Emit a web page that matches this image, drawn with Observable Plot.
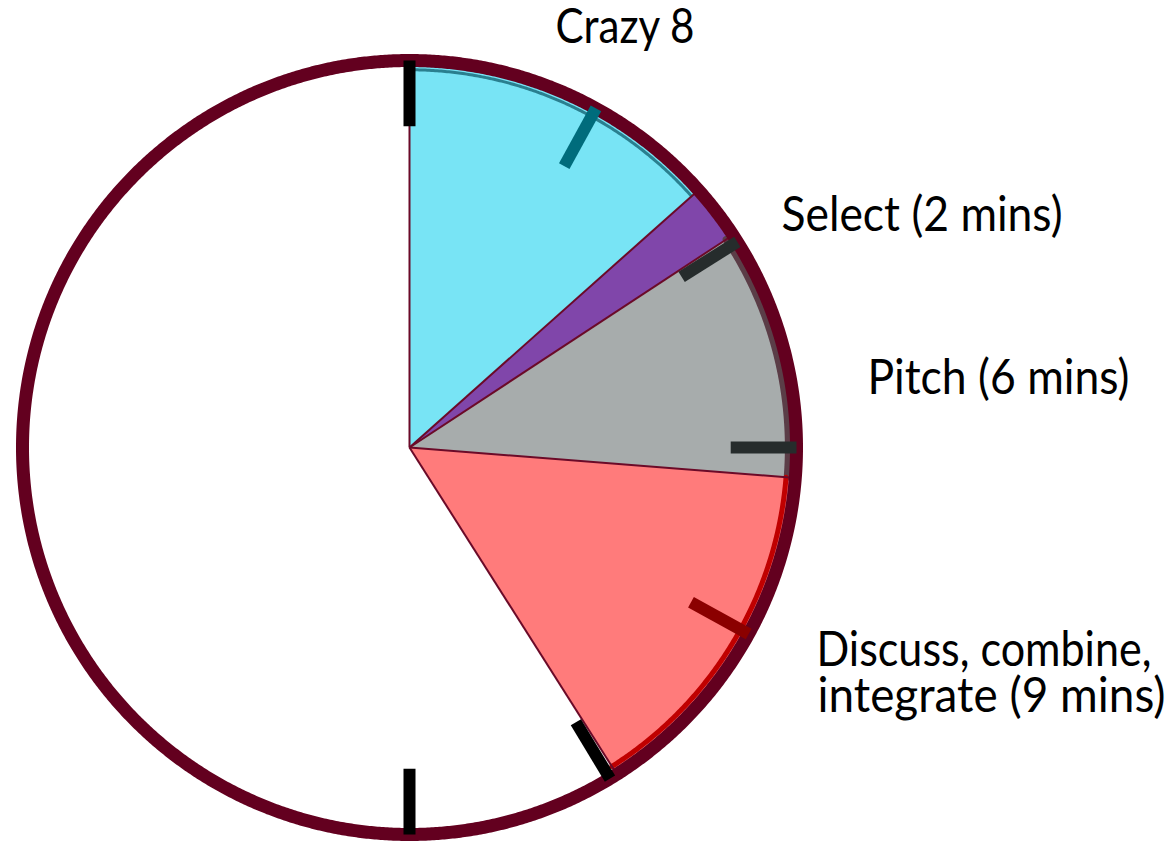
<!DOCTYPE html>
<html>
<head>
<meta charset="utf-8">
<script src="https://cdn.jsdelivr.net/npm/d3@7"></script>
<script src="https://cdn.jsdelivr.net/npm/@observablehq/plot@0.6"></script>
<style>
  html, body { margin: 0; padding: 0; background: #ffffff; }
  svg { display: block; }
</style>
</head>
<body>
<div id="chart"></div>
<script>
// ---------------- data (minutes on a 60-minute clock face) ----------------
const activities = ["Crazy 8", "Select", "Pitch", "Discuss, combine, integrate"];
const startMin   = [0, 8.05, 9.45, 15.75];
const endMin     = [8.05, 9.45, 15.75, 24.6];
const labelLines = ["Crazy 8", "Select (2 mins)", "Pitch (6 mins)", "Discuss, combine,", "integrate (9 mins)"];
const tickMin    = [0, 4.8, 9.65, 15, 19.8, 24.8, 30];

// ---------------- styles ----------------
const sliceFill  = ["#78e4f5", "#8046aa", "#a7acac", "#ff7b7b"];
const tickColor  = ["#000000", "#006c7c", "#262c2c", "#262c2c", "#8b0000", "#000000", "#000000"];
const ringColor  = "#63001f";
const edgeColor  = "#6b0a28";

// ---------------- layout (pixels) ----------------
const W = 1168, H = 842;
const CX = 409, CY = 447, R = 387;              // clock centre / ring radius in px
const xDomain = [-CX / R, (W - CX) / R];
const yDomain = [-(H - CY) / R, CY / R];
// label anchors (left x, baseline y) and rendered widths, in px
const labelLayout = [
  {px: 555, py: 42,  w: 139},
  {px: 781, py: 230, w: 281},
  {px: 867, py: 393, w: 262},
  {px: 816, py: 665, w: 335},
  {px: 817, py: 711, w: 348}
];

// ---------------- geometry helpers ----------------
const ang = m => m / 60 * 2 * Math.PI;
const px = (m, r) => r * Math.sin(ang(m));
const py = (m, r) => r * Math.cos(ang(m));
function arcPts(m0, m1, r) {
  const n = Math.max(2, Math.ceil((m1 - m0) / 0.05));
  return d3.range(n + 1).map(i => {
    const m = m0 + (m1 - m0) * i / n;
    return {x: px(m, r), y: py(m, r)};
  });
}

// slices as closed polygons (centre + arc)
const slices = activities.map((a, i) => ({
  name: a,
  fill: sliceFill[i],
  pts: [{x: 0, y: 0}, ...arcPts(startMin[i], endMin[i], 0.99)]
}));

// radial slice edges
const edgeMins = [...startMin, endMin[endMin.length - 1]];
const edges = edgeMins.map(m => ({x1: 0, y1: 0, x2: px(m, 0.985), y2: py(m, 0.985)}));

// ring
const ring = arcPts(0, 60, 1);

// arc strokes of individual slices
const crazyArc   = arcPts(startMin[0], endMin[0], 0.976);
const pitchArc   = arcPts(startMin[2], endMin[2], 0.979);
const discussArc = arcPts(startMin[3], endMin[3], 0.976);

// ticks
const tickIn = 0.83, tickOut = 1.0;
const ticks = tickMin.map((m, i) => ({
  x1: px(m, tickIn), y1: py(m, tickIn), x2: px(m, tickOut), y2: py(m, tickOut), c: tickColor[i]
}));

// labels
const labels = labelLines.map((t, i) => ({
  text: t,
  x: (labelLayout[i].px - CX) / R,
  y: (CY - labelLayout[i].py) / R
}));

const chart = Plot.plot({
  width: W,
  height: H,
  margin: 0,
  axis: null,
  x: {domain: xDomain, range: [0, W]},
  y: {domain: yDomain, range: [H, 0]},
  style: {fontFamily: "Lato, 'Open Sans', sans-serif", background: "#ffffff"},
  marks: [
    ...slices.map(s => Plot.line(s.pts, {x: "x", y: "y", curve: "linear-closed", fill: s.fill, stroke: "none"})),
    Plot.line(crazyArc,   {x: "x", y: "y", stroke: "#2a7f8f", strokeWidth: 3}),
    Plot.line(pitchArc,   {x: "x", y: "y", stroke: "#5b3d47", strokeWidth: 7}),
    Plot.line(discussArc, {x: "x", y: "y", stroke: "#c00000", strokeWidth: 5}),
    Plot.link(edges, {x1: "x1", y1: "y1", x2: "x2", y2: "y2", stroke: edgeColor, strokeWidth: 2}),
    Plot.line(ring, {x: "x", y: "y", curve: "linear-closed", stroke: ringColor, strokeWidth: 13}),
    Plot.link(ticks, {x1: "x1", y1: "y1", x2: "x2", y2: "y2", stroke: d => d.c, strokeWidth: 12, strokeLinecap: "butt"}),
    Plot.text(labels, {x: "x", y: "y", text: "text", textAnchor: "start", lineAnchor: "bottom",
                       fontSize: 48, fill: "#000000"})
  ],
  color: {type: "identity"}
});

// match the rendered widths of the label lines
d3.select(chart).selectAll('g[aria-label="text"] text').each(function(d, i) {
  if (labelLayout[i]) {
    this.setAttribute("textLength", labelLayout[i].w);
    this.setAttribute("lengthAdjust", "spacingAndGlyphs");
  }
});

document.getElementById("chart").appendChild(chart);
</script>
</body>
</html>
